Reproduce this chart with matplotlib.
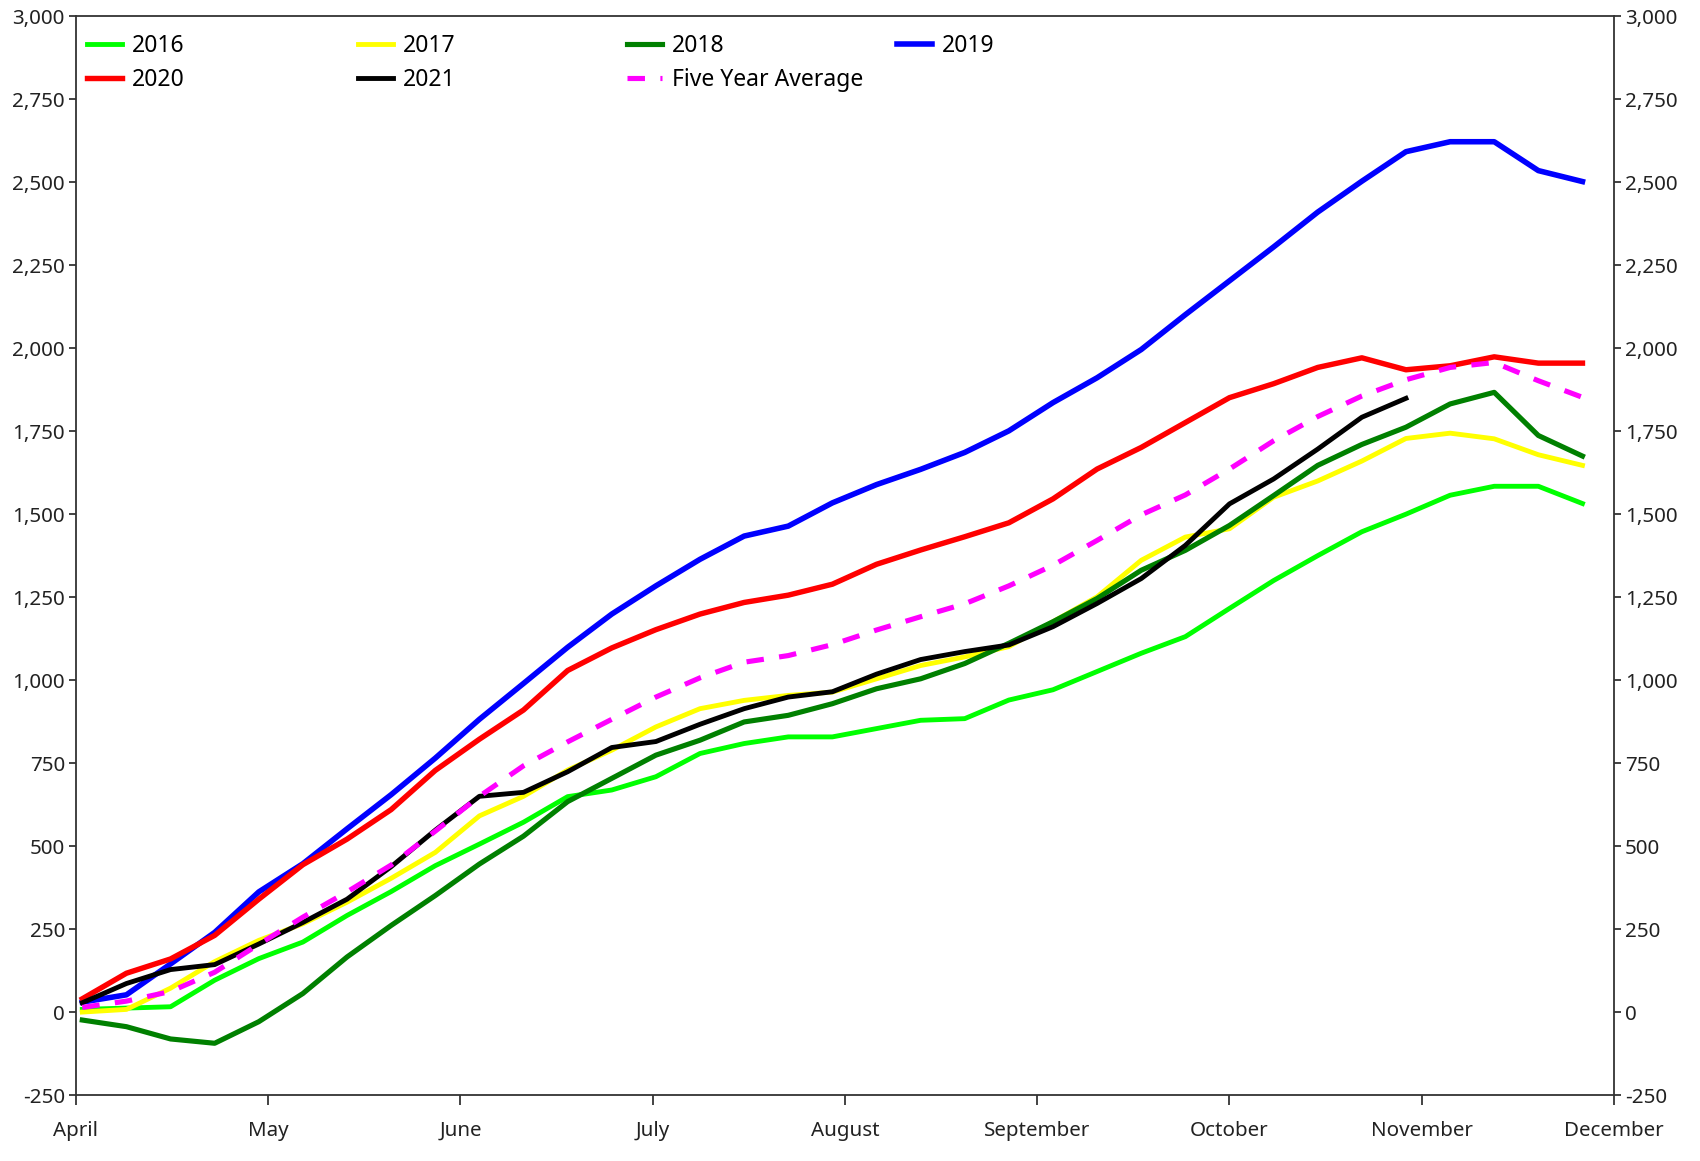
import numpy as np
import matplotlib.pyplot as plt
from matplotlib.legend import Legend
from matplotlib.ticker import MultipleLocator, StrMethodFormatter

plt.rcParams['font.family'] = ['Noto Sans', 'DejaVu Sans']
plt.rcParams['axes.unicode_minus'] = False

months = ["April", "May", "June", "July", "August", "September",
          "October", "November", "December"]

# weekly cumulative values, first week of April onwards
y2016 = [8, 12, 16, 96, 161, 211, 291, 363, 441, 506, 572, 649, 669, 709,
         779, 809, 829, 829, 854, 879, 884, 940, 971, 1026, 1081, 1131,
         1216, 1300, 1375, 1447, 1500, 1557, 1584, 1584, 1532]
y2017 = [0, 8, 72, 152, 216, 266, 331, 403, 481, 591, 650, 729, 789, 859,
         914, 939, 954, 964, 1004, 1044, 1070, 1101, 1176, 1251, 1361,
         1431, 1456, 1551, 1600, 1660, 1728, 1744, 1727, 1679, 1647]
y2018 = [-24, -44, -81, -94, -29, 56, 166, 261, 351, 446, 530, 634, 704,
         774, 819, 874, 894, 929, 974, 1004, 1050, 1111, 1176, 1246, 1331,
         1391, 1466, 1556, 1647, 1710, 1762, 1832, 1867, 1737, 1675]
y2019 = [30, 52, 145, 240, 362, 447, 552, 655, 765, 882, 990, 1099, 1199,
         1284, 1364, 1434, 1464, 1534, 1589, 1635, 1686, 1751, 1836, 1911,
         1996, 2101, 2203, 2305, 2410, 2503, 2592, 2622, 2622, 2535, 2502]
y2020 = [40, 117, 160, 231, 340, 444, 521, 610, 728, 822, 910, 1029, 1097,
         1152, 1199, 1234, 1256, 1289, 1349, 1392, 1432, 1474, 1546, 1636,
         1701, 1776, 1851, 1893, 1942, 1971, 1935, 1947, 1974, 1955, 1955]
y2021 = [28, 86, 128, 143, 205, 270, 340, 438, 548, 650, 662, 724, 797,
         815, 867, 914, 949, 965, 1018, 1062, 1086, 1106, 1161, 1231, 1306,
         1406, 1531, 1606, 1696, 1792, 1849]
five_year_avg = [14, 33, 62, 120, 204, 286, 362, 443, 545, 650, 742, 814,
                 882, 949, 1007, 1054, 1074, 1107, 1151, 1191, 1230, 1284,
                 1346, 1421, 1498, 1558, 1636, 1721, 1794, 1856, 1905, 1942,
                 1957, 1902, 1852]

series = [
    ("2016", y2016, "#00ff00", 3.5),
    ("2017", y2017, "#ffff00", 3.5),
    ("2018", y2018, "#008000", 3.7),
    ("2019", y2019, "#0000ff", 4.0),
    ("2020", y2020, "#ff0000", 3.9),
    ("2021", y2021, "#000000", 3.5),
]

fig, ax = plt.subplots(figsize=(17, 11.61), dpi=100)
fig.subplots_adjust(left=0.0447, right=0.9494, bottom=0.0568, top=0.986)

handles = []
labels = []
for label, vals, color, lw in series:
    days = 1 + 7 * np.arange(len(vals))
    line, = ax.plot(days, vals, color=color, lw=lw, label=label)
    handles.append(line)
    labels.append(label)

days = 1 + 7 * np.arange(len(five_year_avg))
line, = ax.plot(days, five_year_avg, color="#ff00ff", lw=3.7,
                dashes=(3.4, 3.0), label="Five Year Average")
handles.append(line)
labels.append("Five Year Average")

ax.set_xlim(0, 244)
ax.set_ylim(-250, 3000)
ax.set_xticks(np.linspace(0, 244, len(months)))
ax.set_xticklabels(months)
ax.yaxis.set_major_locator(MultipleLocator(250))
ax.yaxis.set_major_formatter(StrMethodFormatter("{x:,.0f}"))

for sp in ax.spines.values():
    sp.set_color("#333333")
    sp.set_linewidth(1.3)

ax.tick_params(axis="y", left=True, right=True, labelleft=True,
               labelright=True, length=5, width=1.2, pad=3,
               labelsize=14.8, colors="#222222")
ax.tick_params(axis="x", length=7.5, width=1.2, pad=11,
               labelsize=14.8, colors="#222222")

# legend laid out row-wise in equal width columns
columns = [[0, 4], [1, 5], [2, 6], [3]]
col_x = [0.0013, 0.1775, 0.3524, 0.528]
for idx, xa in zip(columns, col_x):
    leg = Legend(ax, [handles[i] for i in idx], [labels[i] for i in idx],
                 loc="upper left", bbox_to_anchor=(xa, 0.992),
                 frameon=False, fontsize=16.5, handlelength=1.5,
                 handletextpad=0.45, labelspacing=0.45, borderaxespad=0)
    ax.add_artist(leg)

fig.savefig("out.png", dpi=100)
